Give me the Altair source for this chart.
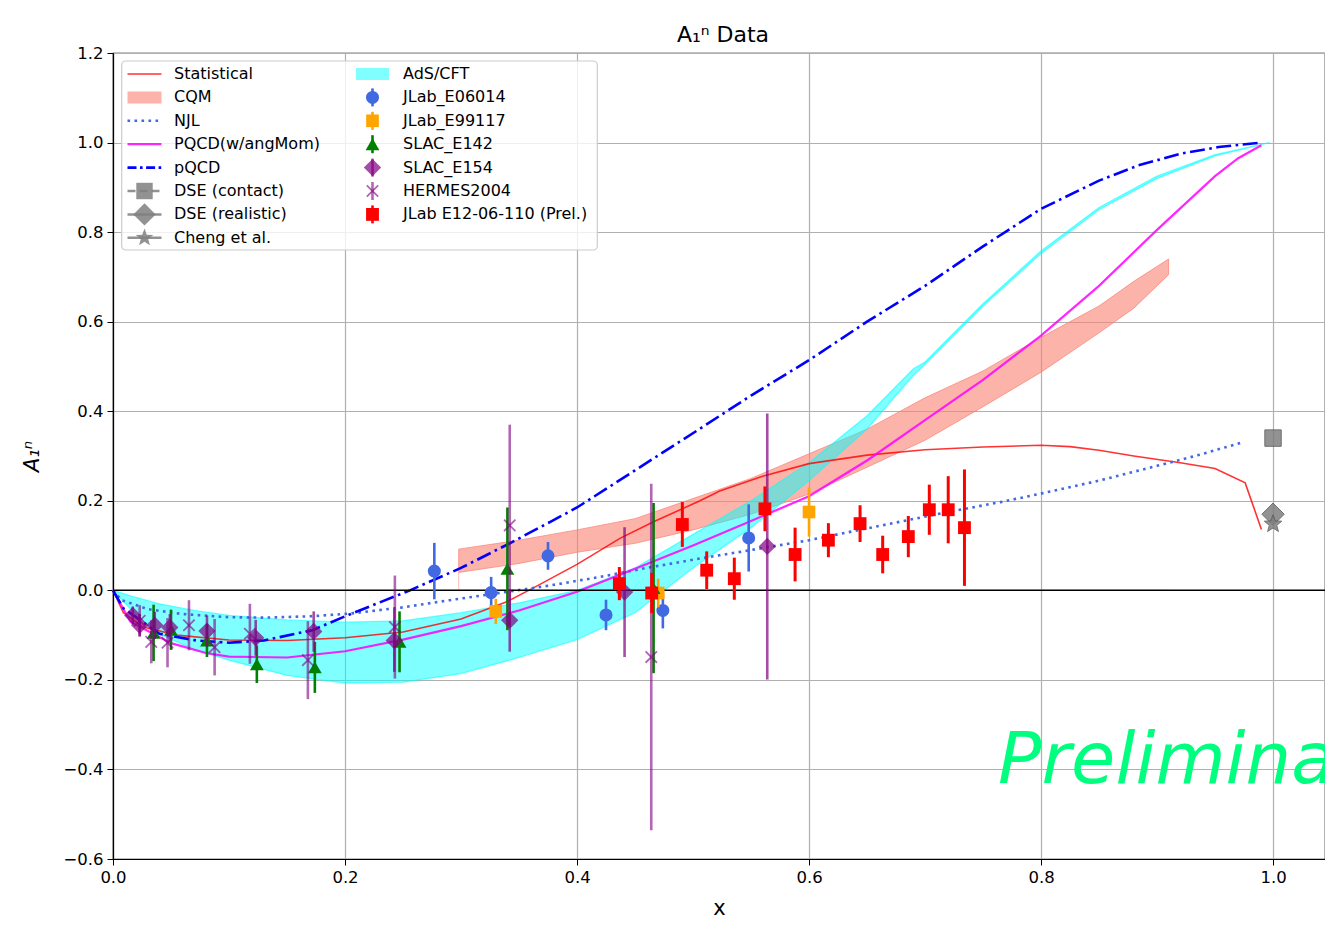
import math
import altair as alt
import pandas as pd

# ---------------- curves ----------------
stat_x = [0.0, 0.009, 0.026, 0.055, 0.1, 0.15, 0.2, 0.25, 0.3, 0.34, 0.362, 0.4, 0.437, 0.466, 0.506,
          0.523, 0.56, 0.6, 0.65, 0.7, 0.75, 0.8, 0.825, 0.85, 0.88, 0.92, 0.95, 0.976, 0.99]
stat_y = [0.0, -0.05, -0.082, -0.1, -0.111, -0.112, -0.106, -0.093, -0.064, -0.025, 0.005, 0.058, 0.116,
          0.153, 0.2, 0.222, 0.255, 0.283, 0.302, 0.314, 0.32, 0.324, 0.321, 0.313, 0.30, 0.285, 0.272, 0.24, 0.136]

cqm_x = [0.298, 0.35, 0.4, 0.45, 0.5, 0.55, 0.6, 0.65, 0.7, 0.75, 0.8, 0.85, 0.88, 0.91]
cqm_lo = [0.040, 0.060, 0.085, 0.105, 0.135, 0.170, 0.215, 0.275, 0.335, 0.410, 0.487, 0.575, 0.630, 0.705]
cqm_hi = [0.092, 0.112, 0.135, 0.160, 0.205, 0.250, 0.305, 0.360, 0.430, 0.490, 0.565, 0.635, 0.690, 0.740]
cqm_edge_x = [0.298, 0.298, 0.913]
cqm_edge_y = [0.04, 0.0, 0.0]

ads_x = [0.0, 0.02, 0.04, 0.07, 0.1, 0.15, 0.2, 0.25, 0.3, 0.35, 0.4, 0.45, 0.5, 0.55, 0.6, 0.65, 0.69,
         0.7, 0.75, 0.8, 0.85, 0.9, 0.95, 0.997]
ads_hi = [0.0, -0.016, -0.03, -0.045, -0.056, -0.066, -0.071, -0.068, -0.05, -0.028, 0.0, 0.05, 0.125,
          0.2, 0.285, 0.39, 0.495, 0.51, 0.64, 0.758, 0.855, 0.925, 0.973, 1.0]
ads_lo = [0.0, -0.055, -0.098, -0.132, -0.156, -0.19, -0.207, -0.205, -0.186, -0.15, -0.11, -0.05, 0.05,
          0.14, 0.245, 0.36, 0.48, 0.505, 0.635, 0.752, 0.85, 0.92, 0.97, 1.0]

njl_x = [0.0, 0.0075, 0.03, 0.06, 0.1, 0.13, 0.17, 0.204, 0.25, 0.29, 0.33, 0.377, 0.42, 0.46, 0.506,
         0.55, 0.6, 0.678, 0.72, 0.765, 0.8, 0.85, 0.9, 0.94, 0.974]
njl_y = [0.0, -0.022, -0.042, -0.053, -0.06, -0.061, -0.058, -0.052, -0.038, -0.022, -0.007, 0.011, 0.03,
         0.05, 0.071, 0.09, 0.112, 0.153, 0.175, 0.197, 0.216, 0.245, 0.278, 0.305, 0.331]

pqam_x = [0.0, 0.015, 0.05, 0.08, 0.1, 0.15, 0.2, 0.25, 0.3, 0.35, 0.4, 0.45, 0.5, 0.55, 0.6, 0.65, 0.7,
          0.75, 0.8, 0.85, 0.9, 0.95, 0.97, 0.99]
pqam_y = [0.0, -0.07, -0.118, -0.14, -0.148, -0.15, -0.136, -0.11, -0.08, -0.045, -0.003, 0.048, 0.1,
          0.155, 0.21, 0.29, 0.38, 0.47, 0.569, 0.68, 0.805, 0.925, 0.965, 0.994]

pqcd_x = [0.0, 0.009, 0.04, 0.072, 0.1, 0.13, 0.172, 0.2, 0.256, 0.3, 0.342, 0.377, 0.4, 0.45, 0.506,
          0.55, 0.6, 0.65, 0.7, 0.75, 0.8, 0.85, 0.884, 0.92, 0.953, 0.99]
pqcd_y = [0.0, -0.04, -0.097, -0.112, -0.117, -0.112, -0.089, -0.058, 0.0, 0.05, 0.105, 0.153, 0.185,
          0.268, 0.361, 0.435, 0.514, 0.6, 0.68, 0.768, 0.852, 0.915, 0.949, 0.975, 0.99, 1.0]

# ---------------- data points ----------------
e06014_x = [0.277, 0.326, 0.375, 0.425, 0.474, 0.548]
e06014_y = [0.043, -0.005, 0.077, -0.055, -0.045, 0.117]
e06014_e = [0.063, 0.035, 0.031, 0.034, 0.04, 0.075]

e99117_x = [0.33, 0.47, 0.60]
e99117_y = [-0.047, -0.006, 0.175]
e99117_e = [0.028, 0.032, 0.055]

e142_x = [0.035, 0.050, 0.081, 0.124, 0.174, 0.247, 0.340, 0.466]
e142_y = [-0.095, -0.088, -0.112, -0.165, -0.172, -0.115, 0.048, 0.005]
e142_e = [0.063, 0.045, 0.037, 0.042, 0.057, 0.068, 0.137, 0.19]

e154_x = [0.017, 0.023, 0.036, 0.049, 0.081, 0.123, 0.173, 0.2425, 0.342, 0.441, 0.564]
e154_y = [-0.056, -0.078, -0.078, -0.083, -0.091, -0.106, -0.092, -0.112, -0.067, -0.004, 0.098]
e154_e = [0.02, 0.025, 0.03, 0.03, 0.035, 0.04, 0.045, 0.07, 0.07, 0.145, 0.297]

hermes_x = [0.023, 0.033, 0.047, 0.0655, 0.0876, 0.118, 0.168, 0.243, 0.342, 0.464]
hermes_y = [-0.068, -0.115, -0.117, -0.078, -0.127, -0.097, -0.156, -0.082, 0.145, -0.149]
hermes_e = [0.035, 0.048, 0.055, 0.056, 0.063, 0.067, 0.087, 0.115, 0.225, 0.387]

e12_x = [0.4365, 0.4644, 0.4908, 0.5118, 0.5356, 0.562, 0.588, 0.6167, 0.644, 0.6635, 0.6856, 0.7037, 0.72, 0.734]
e12_y = [0.015, -0.006, 0.147, 0.045, 0.026, 0.182, 0.08, 0.112, 0.149, 0.08, 0.12, 0.18, 0.18, 0.14]
e12_e = [0.037, 0.045, 0.05, 0.042, 0.047, 0.05, 0.06, 0.038, 0.041, 0.042, 0.046, 0.056, 0.075, 0.13]

dse_contact_x, dse_contact_y = [1.0], [0.34]
dse_real_x, dse_real_y = [1.0], [0.17]
cheng_x, cheng_y = [1.0], [0.148]

x_ticks = [0.0, 0.2, 0.4, 0.6, 0.8, 1.0]
y_ticks = [-0.6, -0.4, -0.2, 0.0, 0.2, 0.4, 0.6, 0.8, 1.0, 1.2]

col1_labels = ["Statistical", "CQM", "NJL", "PQCD(w/angMom)", "pQCD", "DSE (contact)",
               "DSE (realistic)", "Cheng et al."]
col2_labels = ["AdS/CFT", "JLab_E06014", "JLab_E99117", "SLAC_E142", "SLAC_E154", "HERMES2004",
               "JLab E12-06-110 (Prel.)"]

# ---------------- setup ----------------
W, H = 1212, 806
FONT = "DejaVu Sans"
xs = alt.Scale(domain=[0, 1.0448], nice=False, zero=False)
ys = alt.Scale(domain=[-0.6, 1.2], nice=False, zero=False)
xaxis = alt.Axis(values=x_ticks, format=".1f", title="x", grid=True, labelFlush=False)
yaxis = alt.Axis(values=y_ticks, format=".1f", title="A₁ⁿ", grid=True, titleFontStyle="italic",
                 labelFlush=False)


def X(f="x"):
    return alt.X(f"{f}:Q", scale=xs, axis=xaxis)


def Y(f="y"):
    return alt.Y(f"{f}:Q", scale=ys, axis=yaxis)


def line_df(xv, yv):
    return pd.DataFrame({"x": xv, "y": yv, "i": range(len(xv))})


def err_df(xv, yv, ev):
    return pd.DataFrame({"x": xv, "y": yv, "lo": [a - b for a, b in zip(yv, ev)],
                         "hi": [a + b for a, b in zip(yv, ev)]})


def band_df(xv, lo, hi):
    return pd.DataFrame({"x": xv, "y": lo, "y2": hi})


STAR = "M" + "L".join(
    f"{(1.0 if k % 2 == 0 else 0.42) * math.cos(-math.pi / 2 + k * math.pi / 5):.3f},"
    f"{(1.0 if k % 2 == 0 else 0.42) * math.sin(-math.pi / 2 + k * math.pi / 5):.3f}"
    for k in range(10)) + "Z"
XMARK = "M-1,-1L1,1M-1,1L1,-1"

layers = []
layers.append(alt.Chart(band_df(cqm_x, cqm_lo, cqm_hi)).mark_area(
    fill="#fa8072", fillOpacity=0.6, stroke="#fa8072", strokeOpacity=0.7, strokeWidth=1
).encode(x=X(), y=Y(), y2="y2:Q"))
layers.append(alt.Chart(line_df(cqm_edge_x, cqm_edge_y)).mark_line(
    color="#fa8072", opacity=0.5, strokeWidth=1).encode(x=X(), y=Y(), order="i:Q"))
layers.append(alt.Chart(band_df(ads_x, ads_lo, ads_hi)).mark_area(
    fill="#00ffff", fillOpacity=0.5, stroke="#00ffff", strokeOpacity=0.55, strokeWidth=1.3
).encode(x=X(), y=Y(), y2="y2:Q"))

layers.append(alt.Chart(line_df(stat_x, stat_y)).mark_line(
    color="#ff0000", opacity=0.8, strokeWidth=1.6).encode(x=X(), y=Y(), order="i:Q"))
layers.append(alt.Chart(line_df(njl_x, njl_y)).mark_line(
    color="#4169e1", strokeWidth=2.6, strokeDash=[2.6, 4.4]).encode(x=X(), y=Y(), order="i:Q"))
layers.append(alt.Chart(line_df(pqam_x, pqam_y)).mark_line(
    color="#ff00ff", opacity=0.85, strokeWidth=2.2).encode(x=X(), y=Y(), order="i:Q"))
layers.append(alt.Chart(line_df(pqcd_x, pqcd_y)).mark_line(
    color="#0000ff", strokeWidth=2.6, strokeDash=[15, 4.5, 2.6, 4.5]).encode(x=X(), y=Y(), order="i:Q"))

layers.append(alt.Chart(pd.DataFrame({"z": [0]})).mark_rule(color="black", strokeWidth=1.5)
              .encode(y=alt.datum(0)))


def series(xv, yv, ev, color, shape, size, opacity=1.0, filled=True, ew=2.6, eop=None):
    df = err_df(xv, yv, ev)
    bars = alt.Chart(df).mark_rule(color=color, strokeWidth=ew,
                                   opacity=opacity if eop is None else eop).encode(
        x=X(), y=Y("lo"), y2="hi:Q")
    if filled:
        pts = alt.Chart(df).mark_point(shape=shape, filled=True, size=size, color=color,
                                       opacity=opacity).encode(x=X(), y=Y())
    else:
        pts = alt.Chart(df).mark_point(shape=shape, filled=False, size=size, color=color,
                                       opacity=opacity, strokeWidth=1.8).encode(x=X(), y=Y())
    return [bars, pts]


layers += series(e06014_x, e06014_y, e06014_e, "#4169e1", "circle", 170)
layers += series(e99117_x, e99117_y, e99117_e, "#ffa500", "square", 160)
layers += series(e142_x, e142_y, e142_e, "#008000", "triangle-up", 190)
layers += series(e154_x, e154_y, e154_e, "#800080", "diamond", 300, opacity=0.7)
layers += series(hermes_x, hermes_y, hermes_e, "#800080", XMARK, 130, opacity=0.6, filled=False)
layers += series(e12_x, e12_y, e12_e, "#ff0000", "square", 165, ew=3)

for xv, yv, shp, sz in [(dse_contact_x, dse_contact_y, "square", 270),
                        (dse_real_x, dse_real_y, "diamond", 500),
                        (cheng_x, cheng_y, STAR, 340)]:
    layers.append(alt.Chart(line_df(xv, yv)).mark_point(
        shape=shp, filled=True, size=sz, color="#7f7f7f", opacity=0.85,
        stroke="#5a5a5a", strokeWidth=1).encode(x=X(), y=Y()))

prelim_x, prelim_y = [0.763], [-0.43]
layers.append(alt.Chart(line_df(prelim_x, prelim_y)).mark_text(
    text="Preliminary", font=FONT, fontSize=72, fontStyle="italic", color="#00ff7f",
    align="left", baseline="alphabetic", clip=True).encode(x=X(), y=Y()))

inner = alt.layer(*layers)

# ---------------- legend (pixel space inside the plot) ----------------
LX = lambda f: alt.X(f"{f}:Q", scale=alt.Scale(domain=[0, W], range=[0, W]), axis=None)
LY = lambda f: alt.Y(f"{f}:Q", scale=alt.Scale(domain=[0, H], range=[0, H]), axis=None)
row_y = [21 + 23.4 * i for i in range(8)]
C1 = dict(x0=14.5, x1=48.5, xm=31.5, xt=61)
C2 = dict(x0=243, x1=276, xm=259.5, xt=290)

box = alt.Chart(pd.DataFrame({"a": [8.7], "b": [484.3], "c": [8], "d": [197]})).mark_rect(
    fill="white", fillOpacity=0.8, stroke="#cccccc", strokeWidth=1.2, cornerRadius=4
).encode(x=LX("a"), x2="b:Q", y=LY("c"), y2="d:Q")

txt = pd.DataFrame({
    "label": col1_labels + col2_labels,
    "lx": [C1["xt"]] * 8 + [C2["xt"]] * 7,
    "ly": row_y + row_y[:7],
})
texts = alt.Chart(txt).mark_text(font=FONT, fontSize=16, align="left", baseline="middle",
                                 color="black").encode(x=LX("lx"), y=LY("ly"), text="label:N")

lines = pd.DataFrame({
    "lx": [C1["x0"]] * 7, "lx2": [C1["x1"]] * 7,
    "ly": [row_y[0], row_y[2], row_y[3], row_y[4], row_y[5], row_y[6], row_y[7]],
    "color": ["#ff0000", "#4169e1", "#ff00ff", "#0000ff", "#7f7f7f", "#7f7f7f", "#7f7f7f"],
    "w": [1.6, 2.6, 2.2, 2.6, 2.5, 2.5, 2.5],
    "op": [0.8, 1.0, 0.85, 1.0, 0.85, 0.85, 0.85],
    "dash": ["solid", "dot", "solid", "dashdot", "dash", "solid", "solid"],
})
dash_map = {"solid": [1, 0], "dot": [2.6, 4.4], "dashdot": [9, 3.5, 2.6, 3.5], "dash": [8, 4]}
leg_layers = [box]
for name, pat in dash_map.items():
    leg_layers.append(alt.Chart(lines).transform_filter(alt.datum.dash == name).mark_rule(
        strokeDash=pat).encode(x=LX("lx"), x2="lx2:Q", y=LY("ly"),
                               color=alt.Color("color:N", scale=None),
                               strokeWidth=alt.StrokeWidth("w:Q", scale=None),
                               opacity=alt.Opacity("op:Q", scale=None)))

rects = pd.DataFrame({"lx": [C1["x0"], C2["x0"]], "lx2": [C1["x1"], C2["x1"]],
                      "ly": [row_y[1] - 6, row_y[0] - 6], "ly2": [row_y[1] + 6, row_y[0] + 6],
                      "color": ["#fa8072", "#00ffff"], "op": [0.6, 0.5]})
leg_layers.append(alt.Chart(rects).mark_rect(strokeWidth=1).encode(
    x=LX("lx"), x2="lx2:Q", y=LY("ly"), y2="ly2:Q",
    color=alt.Color("color:N", scale=None), opacity=alt.Opacity("op:Q", scale=None)))

ebars = pd.DataFrame({"lx": [C2["xm"]] * 6, "ly": [row_y[i] - 9 for i in range(1, 7)],
                      "ly2": [row_y[i] + 9 for i in range(1, 7)],
                      "color": ["#4169e1", "#ffa500", "#008000", "#800080", "#800080", "#ff0000"],
                      "op": [1, 1, 1, 0.7, 0.6, 1]})
leg_layers.append(alt.Chart(ebars).mark_rule(strokeWidth=2.6).encode(
    x=LX("lx"), y=LY("ly"), y2="ly2:Q",
    color=alt.Color("color:N", scale=None), opacity=alt.Opacity("op:Q", scale=None)))

mk = pd.DataFrame({
    "lx": [C1["xm"]] * 3 + [C2["xm"]] * 5,
    "ly": [row_y[5], row_y[6], row_y[7], row_y[1], row_y[2], row_y[3], row_y[4], row_y[6]],
    "shape": ["square", "diamond", STAR, "circle", "square", "triangle-up", "diamond", "square"],
    "size": [270, 500, 340, 170, 160, 190, 300, 165],
    "color": ["#7f7f7f"] * 3 + ["#4169e1", "#ffa500", "#008000", "#800080", "#ff0000"],
    "op": [0.85, 0.85, 0.85, 1, 1, 1, 0.7, 1],
})
leg_layers.append(alt.Chart(mk).mark_point(filled=True).encode(
    x=LX("lx"), y=LY("ly"), shape=alt.Shape("shape:N", scale=None),
    size=alt.Size("size:Q", scale=None), color=alt.Color("color:N", scale=None),
    opacity=alt.Opacity("op:Q", scale=None)))
leg_layers.append(alt.Chart(pd.DataFrame({"lx": [C2["xm"]], "ly": [row_y[5]]})).mark_point(
    shape=XMARK, filled=False, size=130, color="#800080", opacity=0.6, strokeWidth=1.8
).encode(x=LX("lx"), y=LY("ly")))
leg_layers.append(texts)

legend = alt.layer(*leg_layers)

chart = alt.layer(inner, legend).resolve_scale(x="independent", y="independent").properties(
    width=W, height=H,
    title=alt.Title("A₁ⁿ Data", font=FONT, fontSize=22, fontWeight="normal", color="black",
                    offset=-2, dx=4),
    autosize=alt.AutoSizeParams(type="none"),
    padding={"left": 113, "top": 53, "right": 0, "bottom": 71},
    background="white",
).configure_view(stroke="black", strokeWidth=1.2).configure_axis(
    labelFont=FONT, labelFontSize=16.5, labelColor="black", tickColor="black", tickSize=6,
    tickWidth=1, domainColor="black", domainWidth=1.2, gridColor="#b0b0b0", gridWidth=1.2,
    titleFont=FONT, titleFontSize=21, titleFontWeight="normal", titleColor="black",
    labelPadding=4,
).configure_axisX(titlePadding=12).configure_axisY(titlePadding=20)

chart.save("out.html", embed_options={"renderer": "svg", "actions": False})
